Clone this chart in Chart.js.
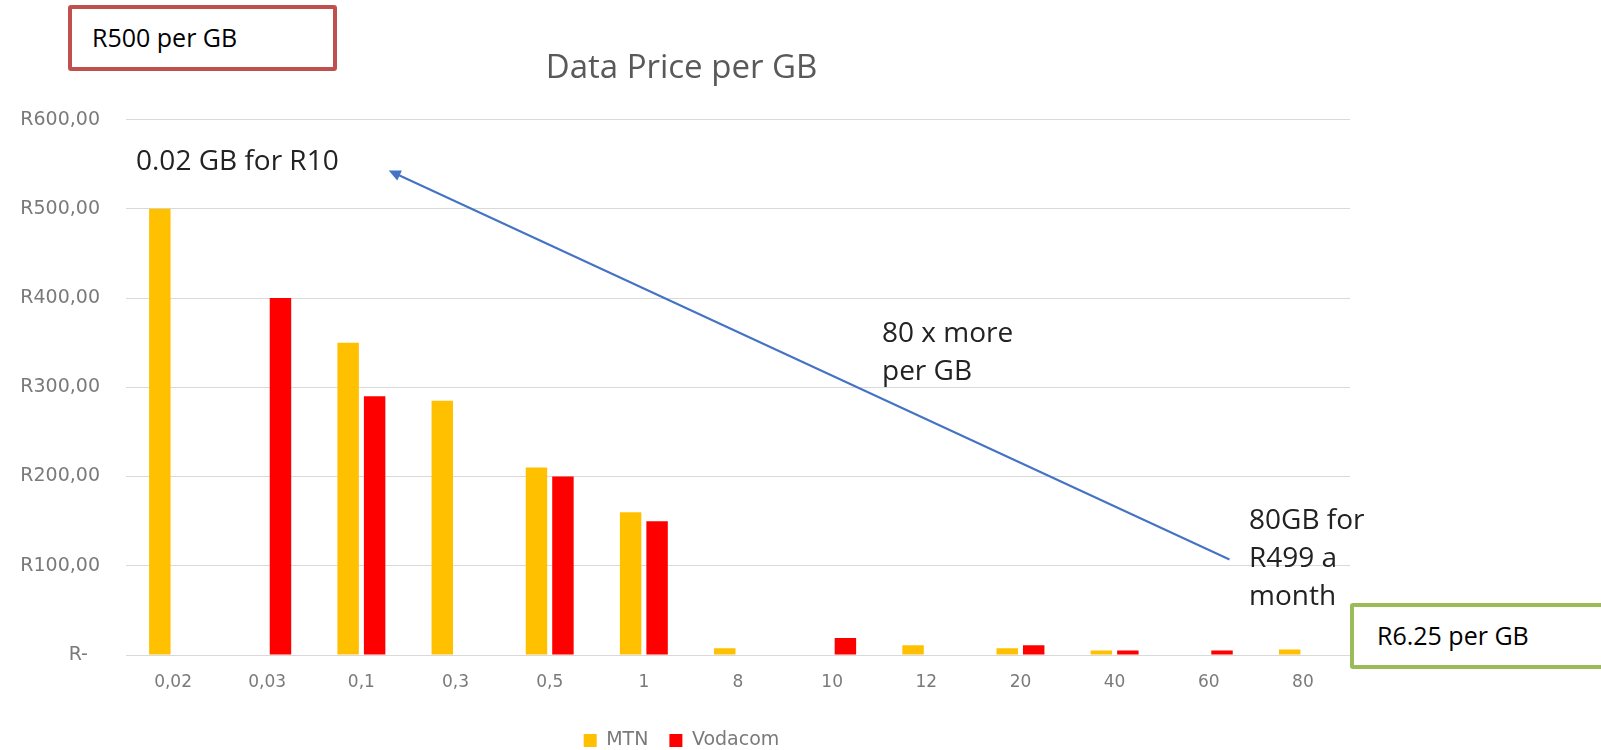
<!DOCTYPE html>
<html>
<head>
<meta charset="utf-8">
<script src="https://cdn.jsdelivr.net/npm/chart.js@4/dist/chart.umd.min.js"></script>
<style>
  html, body { margin: 0; padding: 0; background: #fff; overflow: hidden; }
  body { width: 1601px; height: 750px; position: relative; font-family: "Open Sans", sans-serif; }
  #chartBox { position: absolute; left: 0; top: 0; width: 1370px; height: 760px; }
  .note { position: absolute; color: #222; font-size: 28px; line-height: 38px; white-space: nowrap; }
  .box { position: absolute; box-sizing: border-box; border: 4px solid; border-radius: 3px; background: #fff;
         font-size: 25px; line-height: 34px; color: #000; padding: 11px 0 0 20px; white-space: nowrap; }
  #boxHigh { left: 68px; top: 5px; width: 269px; height: 66px; border-color: #c0504d; }
  #boxLow { left: 1350px; top: 603px; width: 300px; height: 66px; border-color: #9bbb59; padding-left: 23px; }
</style>
</head>
<body>
<div id="chartBox"><canvas id="priceChart"></canvas></div>
<div class="box" id="boxHigh">R500 per GB</div>
<div class="box" id="boxLow">R6.25 per GB</div>
<div class="note" style="left:136px; top:140px;">0.02 GB for R10</div>
<div class="note" style="left:882px; top:312px;">80 x more<br>per GB</div>
<div class="note" style="left:1249px; top:499px;">80GB for<br>R499 a<br>month</div>
<script>
const bundleSizes = ["0,02", "0,03", "0,1", "0,3", "0,5", "1", "8", "10", "12", "20", "40", "60", "80"];
const mtnPrices = [500, null, 350, 285, 210, 160, 7.5, null, 11, 7.5, 5, null, 6.25];
const vodacomPrices = [null, 400, 290, null, 200, 150, null, 19, null, 11, 5, 5, null];
const yTickLabels = ["R-  ", "R100,00", "R200,00", "R300,00", "R400,00", "R500,00", "R600,00"];

// arrow from the 80GB note up to the 0.02GB note, in (category index, rand) units
const arrowFrom = [11.22, 107];
const arrowTo = [2.29, 543];

const arrowPlugin = {
  id: "arrow",
  afterDatasetsDraw(chart) {
    const { ctx, scales } = chart;
    const x1 = scales.x.getPixelForValue(arrowFrom[0]);
    const y1 = scales.y.getPixelForValue(arrowFrom[1]);
    const x2 = scales.x.getPixelForValue(arrowTo[0]);
    const y2 = scales.y.getPixelForValue(arrowTo[1]);
    const ang = Math.atan2(y2 - y1, x2 - x1);
    const len = 12, half = 5.5;
    ctx.save();
    ctx.strokeStyle = "#4472c4";
    ctx.fillStyle = "#4472c4";
    ctx.lineWidth = 2;
    ctx.beginPath();
    ctx.moveTo(x1, y1);
    ctx.lineTo(x2 - Math.cos(ang) * len * 0.8, y2 - Math.sin(ang) * len * 0.8);
    ctx.stroke();
    ctx.beginPath();
    ctx.moveTo(x2, y2);
    ctx.lineTo(x2 - Math.cos(ang) * len + Math.sin(ang) * half, y2 - Math.sin(ang) * len - Math.cos(ang) * half);
    ctx.lineTo(x2 - Math.cos(ang) * len - Math.sin(ang) * half, y2 - Math.sin(ang) * len + Math.cos(ang) * half);
    ctx.closePath();
    ctx.fill();
    ctx.restore();
  },
};

Chart.defaults.font.family = "'DejaVu Sans', sans-serif";
Chart.defaults.color = "#7a7a7a";

new Chart(document.getElementById("priceChart"), {
  type: "bar",
  data: {
    labels: bundleSizes,
    datasets: [
      { label: "MTN", data: mtnPrices, backgroundColor: "#ffc000" },
      { label: "Vodacom", data: vodacomPrices, backgroundColor: "#ff0000" },
    ],
  },
  options: {
    responsive: true,
    maintainAspectRatio: false,
    animation: false,
    categoryPercentage: 0.5626,
    barPercentage: 0.81,
    layout: { padding: { left: 13, right: 20, top: 0, bottom: 0 } },
    plugins: {
      tooltip: { enabled: false },
      title: {
        display: true,
        text: "Data Price per GB",
        color: "#595959",
        font: { family: "'Open Sans', sans-serif", size: 33, weight: "normal" },
        padding: { top: 49, bottom: 31 },
      },
      legend: {
        position: "bottom",
        labels: {
          boxWidth: 13,
          boxHeight: 13,
          padding: 21,
          color: "#7a7a7a",
          font: { size: 19 },
        },
      },
    },
    scales: {
      x: {
        grid: { display: false, drawTicks: false },
        border: { color: "#d9d9d9", width: 1 },
        ticks: { padding: 17, color: "#7a7a7a", font: { size: 17 } },
        afterFit(scale) { scale.height = 55; },
      },
      y: {
        min: 0,
        max: 600,
        grid: { color: "#d9d9d9", drawTicks: false },
        border: { display: false },
        ticks: {
          stepSize: 100,
          padding: 26,
          color: "#7a7a7a",
          font: { size: 19 },
          callback: (value, index) => yTickLabels[index],
        },
        afterFit(scale) { scale.width = 113; },
      },
    },
  },
  plugins: [arrowPlugin],
});
</script>
</body>
</html>
